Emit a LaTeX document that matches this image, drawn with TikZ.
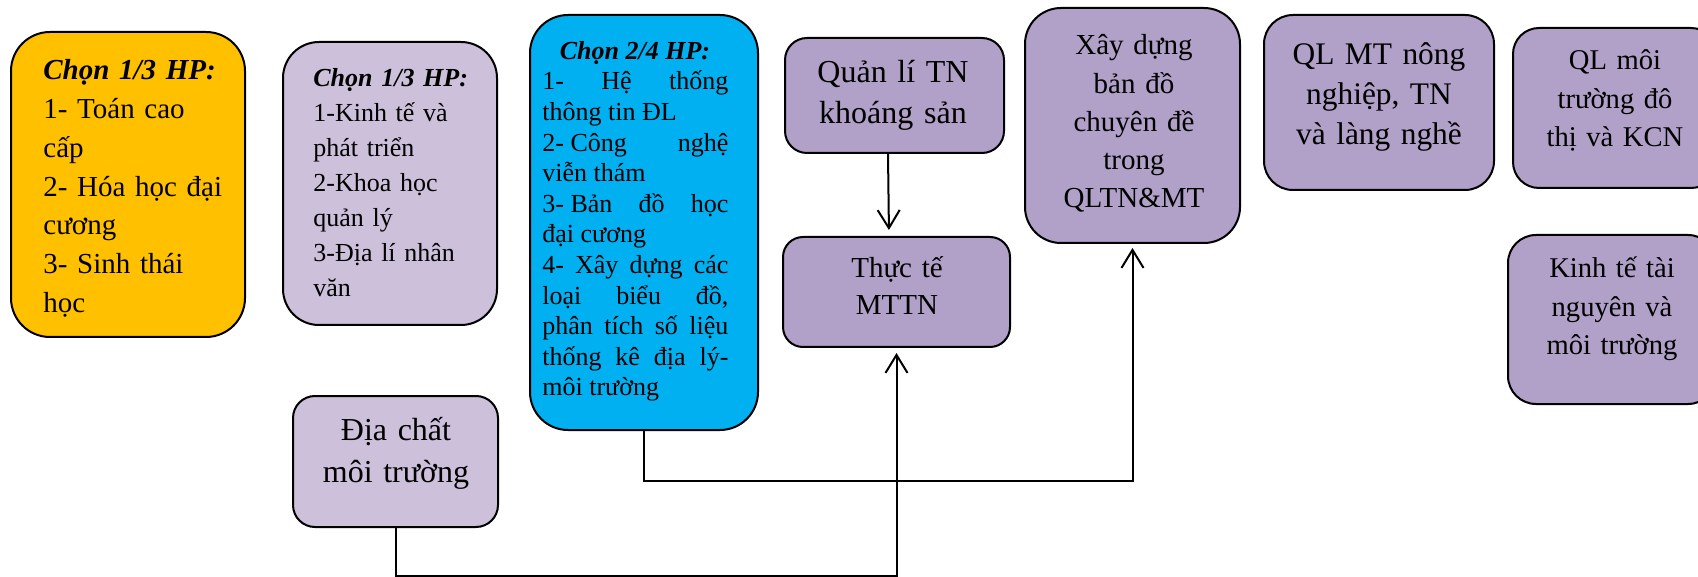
\documentclass[tikz,border=0pt]{standalone}
\usepackage{fontspec}
\setmainfont{Liberation Serif}
\usetikzlibrary{arrows.meta}
\definecolor{cOrange}{RGB}{255,192,0}
\definecolor{cLight}{RGB}{204,192,218}
\definecolor{cPurple}{RGB}{177,160,199}
\definecolor{cCyan}{RGB}{0,176,240}
\tikzset{
  rbox/.style={draw=black, line width=1pt, rounded corners=#1, inner sep=0pt, shape=rectangle},
  txt/.style={inner sep=0pt, text=black},
  ctxt/.style={txt, anchor=base, text width=120pt, align=center},
  conn/.style={draw=black, line width=1pt, -{Straight Barb[length=9pt,width=11pt]}}
}
\begin{document}
\begin{tikzpicture}[x=0.5pt,y=-0.5pt]
\useasboundingbox (0,0) rectangle (1698,577);
\clip (0,0) rectangle (1698,577);

% boxes
\node[rbox=19.5pt, fill=cOrange, minimum width=117pt, minimum height=152.5pt] (b1) at (128,184.5) {};
\node[rbox=18pt, fill=cLight, minimum width=107pt, minimum height=141.5pt] (b2) at (390,183.5) {};
\node[rbox=19pt, fill=cCyan, minimum width=114pt, minimum height=207.5pt] (b3) at (644,222.5) {};
\node[rbox=11pt, fill=cPurple, minimum width=109.5pt, minimum height=57.5pt] (b4) at (894.5,95.5) {};
\node[rbox=10pt, fill=cPurple, minimum width=113.5pt, minimum height=55pt] (b5) at (896.5,292) {};
\node[rbox=18pt, fill=cPurple, minimum width=107.5pt, minimum height=117.5pt] (b6) at (1132.5,125.5) {};
\node[rbox=14.5pt, fill=cPurple, minimum width=115pt, minimum height=87.5pt] (b7) at (1379,102.5) {};
\node[rbox=13pt, fill=cPurple, minimum width=102pt, minimum height=80pt] (b8) at (1615,108) {};
\node[rbox=14pt, fill=cPurple, minimum width=104pt, minimum height=84.5pt] (b9) at (1612,319.5) {};
\node[rbox=11pt, fill=cLight, minimum width=102.5pt, minimum height=65.5pt] (b10) at (395.5,461.5) {};

% texts
\node[txt, anchor=base west, text width=110pt, align=left, font=\fontsize{14.5}{19.35}\selectfont] (t1) at (43,80)
  {\textbf{\textit{Chọn 1/3 HP:}}\\1- Toán cao\\cấp\\2- Hóa học đại\\cương\\3- Sinh thái\\học};
\node[txt, anchor=base west, text width=100pt, align=left, font=\fontsize{13}{17.5}\selectfont] (t2) at (313,87)
  {\textbf{\textit{Chọn 1/3 HP:}}\\1-Kinh tế và\\phát triển\\2-Khoa học\\quản lý\\3-Địa lí nhân\\văn};
\node[txt, anchor=base, font=\fontsize{13}{15.3}\selectfont\bfseries\itshape] (t3h) at (635,60) {Chọn 2/4 HP:};
\node[txt, anchor=base west, text width=93pt, align=justify, font=\fontsize{13}{15.3}\selectfont] (t3) at (542,90)
  {1- Hệ thống\linebreak thông tin ĐL\\2-\hspace{.25em}Công nghệ\linebreak viễn thám\\3-\hspace{.25em}Bản đồ học\linebreak đại cương\\4- Xây dựng các\linebreak loại biểu đồ,\linebreak phân tích số liệu\linebreak thống kê địa lý-\linebreak môi trường};
\node[ctxt, font=\fontsize{16}{20.5}\selectfont] (t4) at (893,83) {Quản lí TN\\khoáng sản};
\node[ctxt, font=\fontsize{14.5}{18.5}\selectfont] (t5) at (897,278) {Thực tế\\MTTN};
\node[ctxt, font=\fontsize{14.5}{19.1}\selectfont] (t6) at (1134,55) {Xây dựng\\bản đồ\\chuyên đề\\trong\\QLTN\&MT};
\node[ctxt, font=\fontsize{15.7}{20}\selectfont] (t7) at (1379,65) {QL MT nông\\nghiệp, TN\\và làng nghề};
\node[ctxt, font=\fontsize{14.3}{19.25}\selectfont] (t8) at (1615,70) {QL môi\\trường đô\\thị và KCN};
\node[ctxt, font=\fontsize{14.3}{19.25}\selectfont] (t9) at (1612,278) {Kinh tế tài\\nguyên và\\môi trường};
\node[ctxt, font=\fontsize{16}{21}\selectfont] (t10) at (396,440) {Địa chất\\môi trường};

% connectors
\draw[conn, shorten >=3pt] ([xshift=-3.25pt]b4.south) -- ([xshift=-3.75pt]b5.north);
\draw[conn, shorten >=2.5pt] (b10.south) -- ++(0,48) -| (b5.south);
\draw[conn, shorten >=2pt] (b3.south) -- ++(0,50) -| (b6.south);
\end{tikzpicture}
\end{document}
